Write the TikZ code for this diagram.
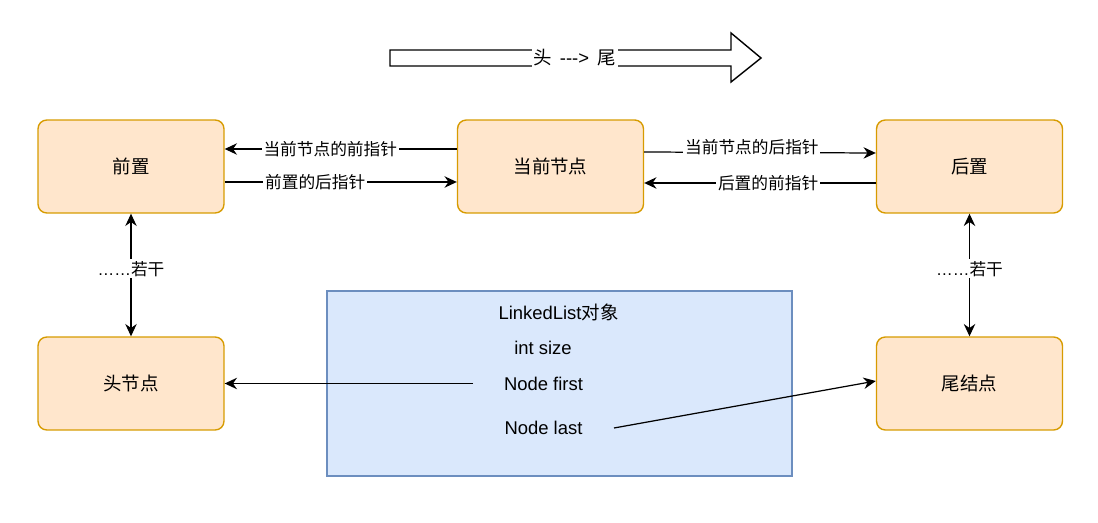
\documentclass[tikz,border=0pt]{standalone}
\usepackage{fontspec}
\setmainfont{Liberation Sans}
\newfontfamily\cjk{Noto Sans CJK SC}
\usepackage{tikz}
\usetikzlibrary{arrows.meta}
\definecolor{boxfill}{HTML}{FFE6CC}
\definecolor{boxline}{HTML}{D79B00}
\definecolor{objfill}{HTML}{DAE8FC}
\definecolor{objline}{HTML}{6C8EBF}
\tikzset{
    listnode/.style={draw=boxline, fill=boxfill, rounded corners=5pt, line width=0.8pt,
        minimum width=3.72cm, minimum height=1.86cm, font=\cjk\fontsize{10.5}{12}\selectfont},
    ptr/.style={->, line width=0.7pt},
    ptrlabel/.style={fill=white, inner sep=1pt, font=\cjk\fontsize{9.5}{11}\selectfont},
    field/.style={font=\fontsize{10.5}{12}\selectfont},
    >={Stealth[length=7pt, width=6.5pt]}
}

\begin{document}
\begin{tikzpicture}[x=0.02cm, y=-0.02cm]
    \useasboundingbox (0, 0) rectangle (1098, 523);

    \draw[line width=0.8pt] (390, 50) -- (731, 50) -- (731, 33) -- (761, 58) -- (731, 82) -- (731, 66) -- (390, 66) -- cycle;
    \node[fill=white, inner sep=1pt, font=\fontsize{10.5}{12}\selectfont] at (574.5, 58) (dir) {{\cjk 头} \,-{}-{}->\, {\cjk 尾}};

    \node[listnode] at (131, 166.5) (prev) {前置};
    \node[listnode] at (550.5, 166.5) (cur) {当前节点};
    \node[listnode] at (969.5, 166.5) (next) {后置};
    \node[listnode] at (131, 383.5) (head) {头节点};
    \node[listnode] at (969.5, 383.5) (tail) {尾结点};

    \node[draw=objline, fill=objfill, line width=0.8pt, minimum width=9.3cm, minimum height=3.7cm] at (559.5, 383.5) (obj) {};
    \node[field] at (558.5, 312) (title) {LinkedList{\cjk 对象}};
    \node[field] at (543, 348) (size) {int size};
    \node[field] at (543.5, 384) (first) {Node first};
    \node[field] at (543.5, 428) (last) {Node last};
    \coordinate (firstptr) at (473, 383.5);
    \coordinate (lastptr) at (614, 428);

    \draw[ptr] ([yshift=0.35cm]cur.west) -- node[ptrlabel, pos=0.545] {当前节点的前指针} ([yshift=0.35cm]prev.east);
    \draw[ptr] ([yshift=-0.31cm]prev.east) -- node[ptrlabel, pos=0.39] {前置的后指针} ([yshift=-0.31cm]cur.east -| cur.west);
    \draw[ptr] ([yshift=0.29cm]cur.east) -- node[ptrlabel, pos=0.465, yshift=0.1cm] {当前节点的后指针} ([yshift=0.27cm]next.west);
    \draw[ptr] ([yshift=-0.33cm]next.west) -- node[ptrlabel, pos=0.465] {后置的前指针} ([yshift=-0.33cm]cur.east);
    \draw[ptr, <->] (prev) -- node[ptrlabel, pos=0.45] {{\fontspec{Liberation Sans}……}若干} (head);
    \draw[ptr, <->] (next) -- node[ptrlabel, pos=0.45] {{\fontspec{Liberation Sans}……}若干} (tail);
    \draw[ptr] (firstptr) -- (head);
    \draw[ptr] (lastptr) -- ([yshift=0.05cm]tail.west);
\end{tikzpicture}
\end{document}
